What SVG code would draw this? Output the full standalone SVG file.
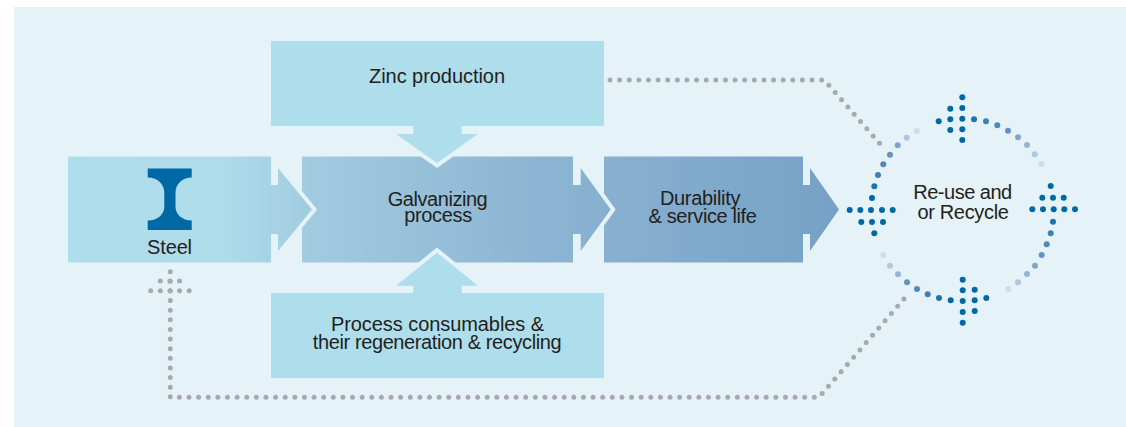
<svg xmlns="http://www.w3.org/2000/svg" width="1126" height="427" viewBox="0 0 1126 427">
<style>
text{font-family:"Liberation Sans",Arial,sans-serif;font-size:20px;fill:#231f20;text-anchor:middle}
.b{fill:#aeddeb}.f{fill:url(#g)}.n{fill:#e5f3f9;stroke:#e5f3f9;stroke-width:8;stroke-miterlimit:10}
.d{fill:none;stroke:#a7a9ac;stroke-width:5;stroke-linecap:round;stroke-dasharray:0 9.62}
circle{r:3px}.c0{fill:#0069a5}.c1{fill:#1f72aa}.c2{fill:#3f80b2}.c3{fill:#5288b8}.c4{fill:#6593c0}.c5{fill:#7fa3c9}.c6{fill:#95b4d4}.c7{fill:#b0c7df}.c8{fill:#cfdcea}
</style>
<defs>
<linearGradient id="g" gradientUnits="userSpaceOnUse" x1="68" y1="0" x2="840" y2="0">
<stop offset="0" stop-color="#aeddeb"/><stop offset=".2" stop-color="#aedcea"/><stop offset=".32" stop-color="#a0cbdf"/><stop offset=".6" stop-color="#8db5d3"/><stop offset="1" stop-color="#76a1c6"/>
</linearGradient>
</defs>
<rect x="14" y="7" width="1112" height="420" fill="#e5f3f9"/>
<g id="steel">
<rect class="f" x="68" y="156.5" width="203" height="106"/>
<path fill="#0069a5" d="M147.700 168.500H191.700V177.500C182 177.500 175.500 184 175.500 193V207C175.500 214 182 220.500 191.700 220.500V230H147.700V220.500C158 220.500 164.300 214 164.300 207V193C164.300 184 158 177.500 147.700 177.500Z"/>
<text x="169.500" y="254" letter-spacing="-.16">Steel</text>
</g>
<g id="galvanizing">
<rect class="f" x="302" y="156.500" width="271" height="106"/>
<text x="437.500" y="206" letter-spacing="-.45">Galvanizing</text>
<text x="438" y="222" letter-spacing="-.35">process</text>
</g>
<g id="durability">
<rect class="f" x="604" y="156.500" width="199" height="106"/>
<text x="700" y="205" letter-spacing="-.32">Durability</text>
<text x="702.500" y="222.500" letter-spacing="-.4">&amp; service life</text>
</g>
<g id="zinc">
<rect class="b" x="271" y="41" width="333" height="85"/>
<text x="437" y="83" letter-spacing="-.05">Zinc production</text>
</g>
<g id="consumables">
<rect class="b" x="271" y="293" width="333" height="85"/>
<text x="437.500" y="331" letter-spacing="-.07">Process consumables &amp;</text>
<text x="437" y="348.500" letter-spacing="-.39">their regeneration &amp; recycling</text>
</g>
<g id="recycle">
<text x="962.500" y="199" letter-spacing="-.5">Re-use and</text>
<text x="963" y="219" letter-spacing="-.33">or Recycle</text>
</g>
<g id="connectors">
<path class="n" d="M278 168L312 209.500L278 251Z"/>
<path class="f" d="M271 185H278V168L312 209.500L278 251V234H271Z"/>
<path class="n" d="M580.700 168L610.700 209.500L580.700 251Z"/>
<path class="f" d="M573 185H580.700V168L610.700 209.500L580.700 251V234H573Z"/>
<path class="f" d="M803 185H810V168L839 209.500L810 251V234H803Z"/>
<path class="n" d="M396 134H478L437 163Z"/>
<path class="b" d="M413.300 126H461.700V134H478L437 163L396 134H413.300Z"/>
<path class="n" d="M396 285.700H478L437 252.700Z"/>
<path class="b" d="M413.300 293H461.700V285.700H478L437 252.700L396 285.700H413.300Z"/>
<path class="d" d="M610 80H824.300L881.700 145.700"/>
<path class="d" d="M170.300 271.700V397.300H819L907.300 295"/>
<path class="d" d="M160.300 281H180M150.700 290.700H190"/>
<g class="c0">
<circle cx="962.300" cy="97.300"/><circle cx="962.300" cy="108"/><circle cx="962.300" cy="118.700"/><circle cx="962.300" cy="129.300"/><circle cx="962.300" cy="140"/>
<circle cx="950.300" cy="108.700"/><circle cx="950.300" cy="119.300"/><circle cx="950.300" cy="130"/><circle cx="938.700" cy="121.300"/>
<circle cx="849.700" cy="210"/><circle cx="860.300" cy="210"/><circle cx="871" cy="210"/><circle cx="882" cy="210"/><circle cx="892.700" cy="210"/>
<circle cx="861.300" cy="222"/><circle cx="872" cy="222"/><circle cx="883" cy="222"/><circle cx="874.300" cy="233.300"/><circle cx="872" cy="198"/>
<circle cx="1032.300" cy="209.300"/><circle cx="1043" cy="209.300"/><circle cx="1053.700" cy="209.300"/><circle cx="1064.300" cy="209.300"/><circle cx="1075" cy="209.300"/>
<circle cx="1042.300" cy="197.700"/><circle cx="1053" cy="197.700"/><circle cx="1063.700" cy="197.700"/><circle cx="1050.700" cy="186"/>
<circle cx="962.700" cy="279.700"/><circle cx="962.700" cy="290.300"/><circle cx="962.700" cy="301"/><circle cx="962.700" cy="312"/><circle cx="962.700" cy="322.700"/>
<circle cx="974.700" cy="289.700"/><circle cx="974.700" cy="300.300"/><circle cx="974.700" cy="311"/><circle cx="986.300" cy="298"/><circle cx="950.700" cy="300.300"/>
</g>
<circle class="c1" cx="974" cy="119.300"/><circle class="c2" cx="986" cy="121.300"/><circle class="c3" cx="997.300" cy="125.300"/><circle class="c4" cx="1008" cy="130.700"/><circle class="c5" cx="1018" cy="137.300"/><circle class="c6" cx="1027" cy="145"/><circle class="c7" cx="1034.700" cy="154.300"/><circle class="c8" cx="1041.300" cy="164"/>
<circle class="c1" cx="874.300" cy="186.300"/><circle class="c2" cx="878" cy="175"/><circle class="c3" cx="883.300" cy="164.300"/><circle class="c4" cx="890" cy="154.700"/><circle class="c5" cx="897.700" cy="145.300"/><circle class="c7" cx="906.700" cy="137.700"/><circle class="c8" cx="916.700" cy="131"/>
<circle class="c1" cx="1053" cy="221.700"/><circle class="c2" cx="1050.700" cy="233.300"/><circle class="c3" cx="1046.700" cy="244.300"/><circle class="c4" cx="1041.700" cy="255"/><circle class="c5" cx="1035" cy="265.700"/><circle class="c6" cx="1027" cy="274"/><circle class="c7" cx="1018" cy="282.300"/><circle class="c8" cx="1008.300" cy="289"/>
<circle class="c1" cx="939" cy="298"/><circle class="c2" cx="927.700" cy="294.300"/><circle class="c3" cx="917" cy="289"/><circle class="c4" cx="907" cy="282.300"/><circle class="c6" cx="898" cy="274.300"/><circle class="c7" cx="890" cy="265.700"/><circle class="c8" cx="883.300" cy="255.300"/>
</g>
</svg>
